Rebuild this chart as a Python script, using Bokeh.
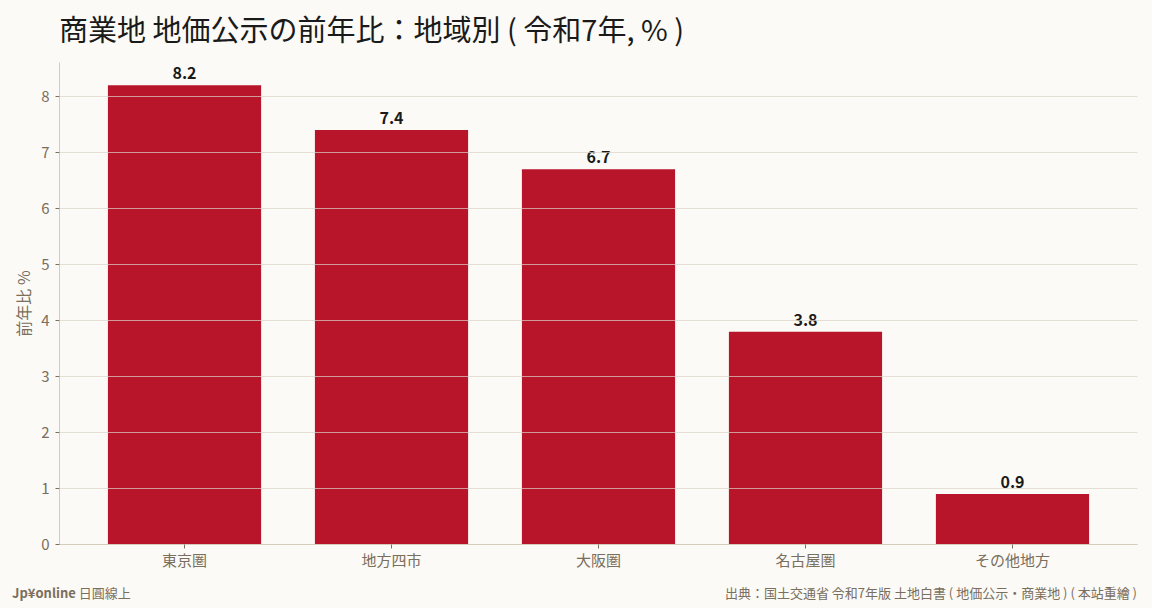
from bokeh.core.properties import value
from bokeh.embed import file_html
from bokeh.layouts import column
from bokeh.models import ColumnDataSource, Div, Range1d, FixedTicker
from bokeh.plotting import figure
from bokeh.resources import INLINE

regions = ["東京圏", "地方四市", "大阪圏", "名古屋圏", "その他地方"]
change = [8.2, 7.4, 6.7, 3.8, 0.9]
y_ticks = [0, 1, 2, 3, 4, 5, 6, 7, 8]

FONT = "Noto Sans CJK JP"
BG = "#fbfaf6"
BAR = "#b8152b"
MUTED = "#7a6e5c"

idx = list(range(len(regions)))
source = ColumnDataSource(data=dict(
    x=idx,
    y=change,
    label=[f"{v:.1f}" for v in change],
))

# title sits in its own Div so that it can be placed freely above the frame
title = Div(
    text="商業地 地価公示の前年比：地域別 ( 令和7年, % )",
    width=1136, height=40, margin=0,
    styles={"font-family": FONT, "font-size": "29px", "color": "#1a1a1a",
            "line-height": "40px", "padding-left": "51px", "box-sizing": "border-box",
            "background-color": BG},
)

p = figure(
    width=1136, height=540,
    x_range=Range1d(-0.604, len(regions) - 1 + 0.604),
    y_range=Range1d(0, 8.607),
    output_backend="svg", toolbar_location=None,
    background_fill_color=BG, border_fill_color=BG,
    min_border_left=50, min_border_right=7, min_border_bottom=44, min_border_top=14,
    margin=0,
)
p.outline_line_color = None

p.vbar(x="x", top="y", width=0.74, source=source, fill_color=BAR, line_color=None)
p.text(x="x", y="y", text="label", source=source, text_align="center",
       text_baseline="bottom", y_offset=-6, text_font=value(FONT),
       text_font_size="16px", text_font_style="bold", text_color="#1a1a1a")

p.xgrid.grid_line_color = None
p.ygrid.grid_line_color = "#d9d3c6"
p.ygrid.grid_line_alpha = 0.7
p.ygrid.level = "annotation"
p.ygrid.ticker = FixedTicker(ticks=y_ticks)

p.xaxis.ticker = FixedTicker(ticks=idx)
p.xaxis.major_label_overrides = {i: r for i, r in enumerate(regions)}
p.yaxis.ticker = FixedTicker(ticks=y_ticks)
p.yaxis.axis_label = "前年比 %"

for ax in (p.xaxis[0], p.yaxis[0]):
    ax.axis_line_color = "#d4cdbe"
    ax.major_tick_line_color = MUTED
    ax.major_tick_out = 4
    ax.major_tick_in = 0
    ax.minor_tick_line_color = None
    ax.major_label_text_font = FONT
    ax.major_label_text_color = MUTED
    ax.axis_label_text_font = FONT
    ax.axis_label_text_color = MUTED
    ax.axis_label_text_font_style = "normal"
    ax.axis_label_text_font_size = "16px"

p.xaxis.major_label_text_font_size = "15px"
p.yaxis.major_label_text_font_size = "15px"
p.xaxis.major_label_standoff = 0
p.yaxis.major_label_standoff = 6
p.yaxis.axis_label_standoff = 3

footer = Div(
    text=('<div style="display:flex;justify-content:space-between;width:1136px;'
          'box-sizing:border-box;padding:0 7px 0 4px;line-height:12px;'
          'position:relative;top:-4px;">'
          '<span><b>Jp¥online</b> 日圓線上</span>'
          '<span>出典：国土交通省 令和7年版 土地白書 ( 地価公示・商業地 ) ( 本站重繪 )</span>'
          '</div>'),
    width=1136, height=12, margin=0,
    styles={"font-family": FONT, "font-size": "13px", "color": MUTED,
            "background-color": BG},
)

layout = column(title, p, footer, spacing=0, margin=8)

html = file_html(layout, INLINE)
html = html.replace("</head>",
                    "<style>html, body { margin: 0; background-color: %s; }</style></head>" % BG, 1)
open("out.html", "w").write(html)
